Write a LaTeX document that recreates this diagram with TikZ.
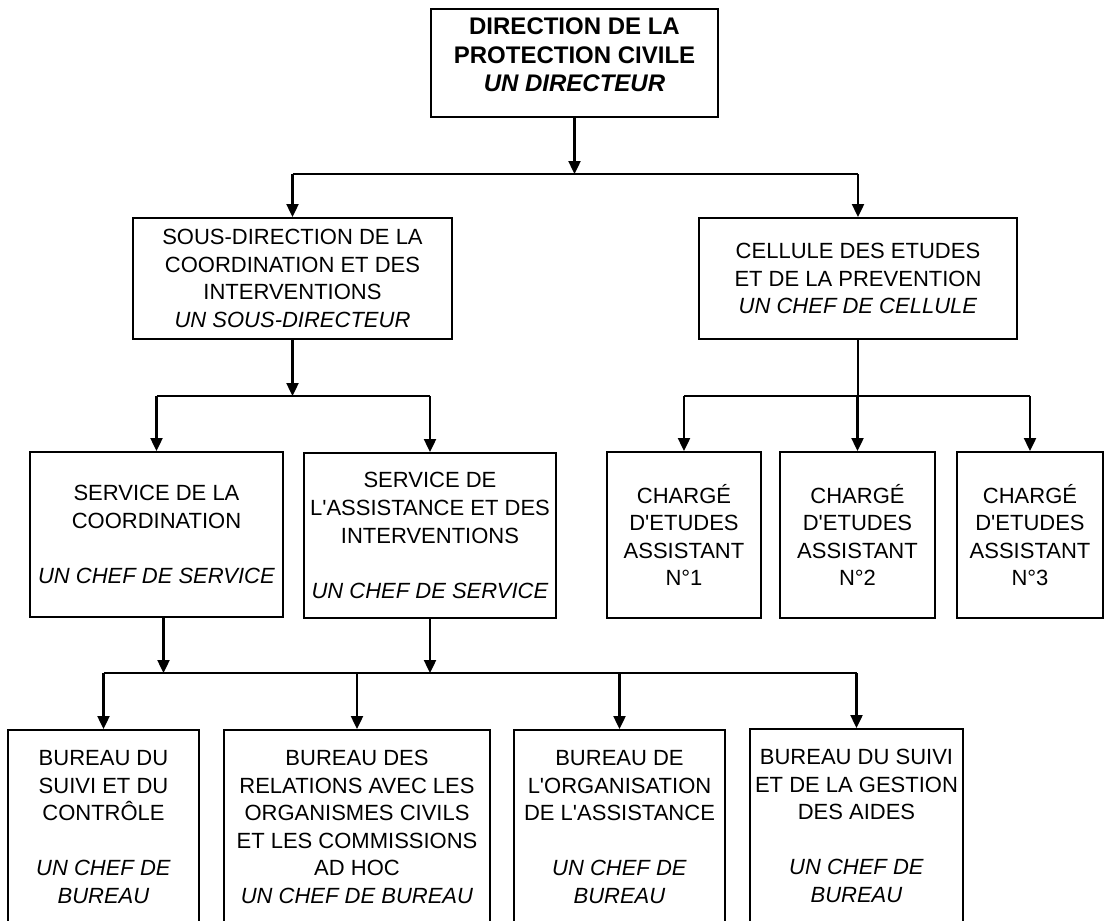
\documentclass[tikz,border=0pt]{standalone}
\usepackage{fontspec}
\setmainfont{Liberation Sans}
\usetikzlibrary{arrows.meta}

\newcommand{\ap}{\textquotesingle}

\tikzset{
  box/.style={draw, line width=2pt, inner sep=0pt, align=center,
    font=\fontsize{22}{27.6}\selectfont},
  link/.style={line width=2.4pt},
  bus/.style={line width=1.8pt}
}

\begin{document}
\begin{tikzpicture}[x=1pt, y=-1pt, line join=miter, >={Triangle[width=12pt,length=13pt]}]
\useasboundingbox (0,0) rectangle (1104,921);
% direction
\node[box, minimum width=287, minimum height=108, font=\fontsize{24}{28.5}\selectfont\bfseries] (dir) at (574.5,63)
  {DIRECTION DE LA\\PROTECTION CIVILE\\\textit{UN DIRECTEUR}\\[-12pt]\mbox{}};
% second level
\node[box, minimum width=319, minimum height=121] (sousdir) at (292.5,278.5)
  {SOUS-DIRECTION DE LA\\COORDINATION ET DES\\INTERVENTIONS\\\textit{UN SOUS-DIRECTEUR}};
\node[box, minimum width=318, minimum height=121] (cellule) at (858,278.5)
  {CELLULE DES ETUDES\\ET DE LA PREVENTION\\\textit{UN CHEF DE CELLULE}};
% services
\node[box, minimum width=253, minimum height=165] (scoord) at (156.5,534.5)
  {SERVICE DE LA\\COORDINATION\\[27.6pt]\textit{UN CHEF DE SERVICE}};
\node[box, minimum width=252, minimum height=165] (sassist) at (430,535.5)
  {SERVICE DE\\L\ap ASSISTANCE ET DES\\INTERVENTIONS\\[27.6pt]\textit{UN CHEF DE SERVICE}};
% charges d'etudes
\node[box, minimum width=154, minimum height=166] (charge1) at (684,535)
  {CHARGÉ\\D\ap ETUDES\\ASSISTANT\\N°1};
\node[box, minimum width=155, minimum height=166] (charge2) at (857.5,535)
  {CHARGÉ\\D\ap ETUDES\\ASSISTANT\\N°2};
\node[box, minimum width=146, minimum height=166] (charge3) at (1030,535)
  {CHARGÉ\\D\ap ETUDES\\ASSISTANT\\N°3};
% bureaux
\node[box, minimum width=191, minimum height=194] (bur1) at (103.5,827)
  {BUREAU DU\\SUIVI ET DU\\CONTRÔLE\\[27.6pt]\textit{UN CHEF DE}\\\textit{BUREAU}};
\node[box, minimum width=266, minimum height=194] (bur2) at (357,827)
  {BUREAU DES\\RELATIONS AVEC LES\\ORGANISMES CIVILS\\ET LES COMMISSIONS\\AD HOC\\\textit{UN CHEF DE BUREAU}};
\node[box, minimum width=211, minimum height=194] (bur3) at (619.5,827)
  {BUREAU DE\\L\ap ORGANISATION\\DE L\ap ASSISTANCE\\[27.6pt]\textit{UN CHEF DE}\\\textit{BUREAU}};
\node[box, minimum width=213, minimum height=194] (bur4) at (856.5,826)
  {BUREAU DU SUIVI\\ET DE LA GESTION\\DES AIDES\\[27.6pt]\textit{UN CHEF DE}\\\textit{BUREAU}};
% bus lines
\coordinate (bus1) at (0,174);
\coordinate (bus2) at (0,396);
\coordinate (bus3) at (0,673);
% connectors
\draw[link,->] (dir.south) -- (dir.south |- bus1);
\draw[bus] (sousdir.north |- bus1) -- (cellule.north |- bus1);
\draw[link,->] (sousdir.north |- bus1) -- (sousdir.north);
\draw[link,->] (cellule.north |- bus1) -- (cellule.north);
\draw[link,->] (sousdir.south) -- (sousdir.south |- bus2);
\draw[bus] (scoord.north |- bus2) -- (sassist.north |- bus2);
\draw[link,->] (scoord.north |- bus2) -- (scoord.north);
\draw[link,->] (sassist.north |- bus2) -- (sassist.north);
\draw[link] (cellule.south) -- (cellule.south |- bus2);
\draw[bus] (charge1.north |- bus2) -- (charge3.north |- bus2);
\draw[link,->] (charge1.north |- bus2) -- (charge1.north);
\draw[link,->] (charge2.north |- bus2) -- (charge2.north);
\draw[link,->] (charge3.north |- bus2) -- (charge3.north);
\draw[link,->] ([xshift=7]scoord.south) -- ([xshift=7]scoord.south |- bus3);
\draw[link,->] (sassist.south) -- (sassist.south |- bus3);
\draw[bus] (bur1.north |- bus3) -- (bur4.north |- bus3);
\draw[link,->] (bur1.north |- bus3) -- (bur1.north);
\draw[link,->] (bur2.north |- bus3) -- (bur2.north);
\draw[link,->] (bur3.north |- bus3) -- (bur3.north);
\draw[link,->] (bur4.north |- bus3) -- (bur4.north);
\end{tikzpicture}
\end{document}
